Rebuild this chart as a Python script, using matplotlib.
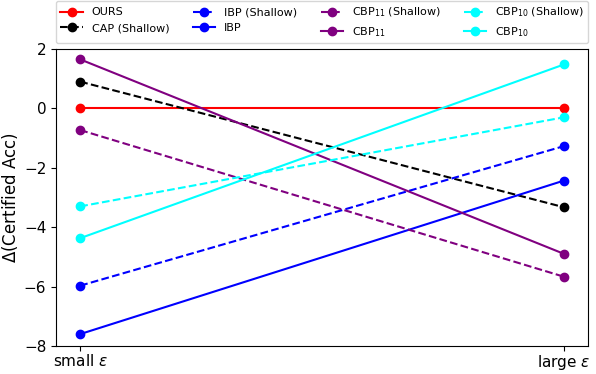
import matplotlib.pyplot as plt

settings = ["small $\\epsilon$", "large $\\epsilon$"]

ours = [0.0, 0.0]
cap_shallow = [0.9, -3.33]
ibp_shallow = [-5.97, -1.27]
ibp = [-7.6, -2.43]
cbp11_shallow = [-0.73, -5.67]
cbp11 = [1.65, -4.9]
cbp10_shallow = [-3.3, -0.3]
cbp10 = [-4.37, 1.48]

series = [
    ("OURS", ours, "red", "-"),
    ("CAP (Shallow)", cap_shallow, "black", "--"),
    ("IBP (Shallow)", ibp_shallow, "blue", "--"),
    ("IBP", ibp, "blue", "-"),
    ("CBP$_{11}$ (Shallow)", cbp11_shallow, "purple", "--"),
    ("CBP$_{11}$", cbp11, "purple", "-"),
    ("CBP$_{10}$ (Shallow)", cbp10_shallow, "cyan", "--"),
    ("CBP$_{10}$", cbp10, "cyan", "-"),
]

fig = plt.figure(figsize=(5.96, 3.74), dpi=100)
ax = fig.add_axes([0.094, 0.075, 0.893, 0.794])

x = list(range(len(settings)))
for label, vals, color, ls in series:
    ax.plot(x, vals, color=color, linestyle=ls, marker="o", label=label)

ax.set_xticks(x)
ax.set_xticklabels(settings, fontsize=11)
ax.tick_params(axis="x", pad=1.5)
ax.set_ylim(-8, 2)
ax.set_yticks([-8, -6, -4, -2, 0, 2])
ax.tick_params(axis="y", labelsize=11)
ax.set_ylabel("$\\Delta$(Certified Acc)", fontsize=12, labelpad=3)

ax.legend(loc="lower left", bbox_to_anchor=(0, 1.02, 1, 0.2), mode="expand",
          ncol=4, fontsize=8, borderaxespad=0, handlelength=2)

fig.savefig("out.png", dpi=100)
